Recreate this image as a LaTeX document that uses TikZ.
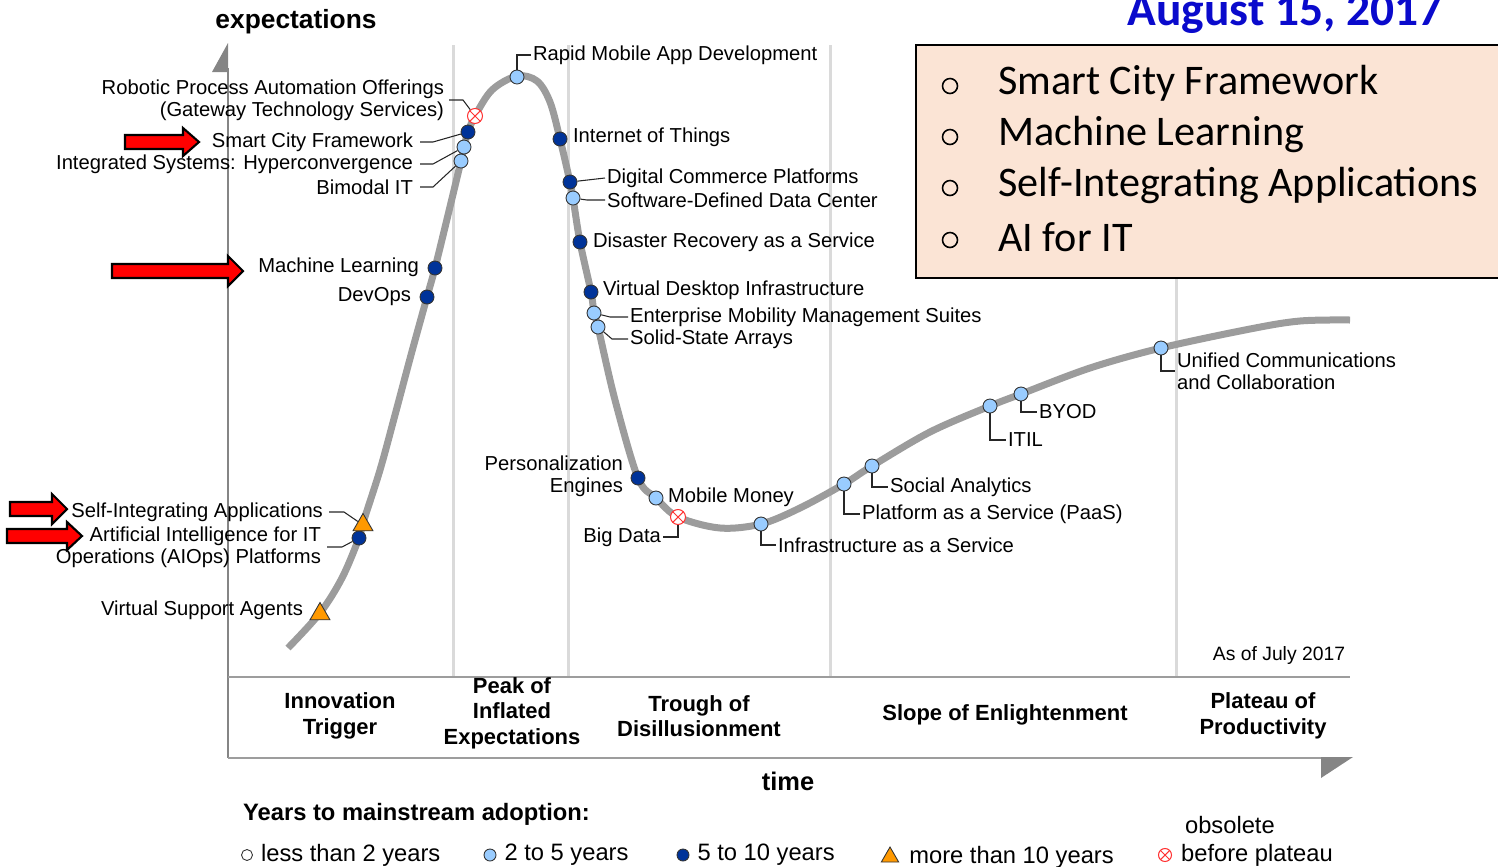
\documentclass[tikz,border=0pt]{standalone}
\usepackage{fontspec}
\setmainfont{Liberation Sans}
\newfontfamily\calibri{Carlito}
\usetikzlibrary{positioning,shapes.geometric}

\definecolor{hypegrey}{HTML}{9C9C9C}
\definecolor{gridgrey}{HTML}{DADADA}
\definecolor{axisgrey}{HTML}{858585}
\definecolor{lightdot}{HTML}{99CCFF}
\definecolor{darkdot}{HTML}{003399}
\definecolor{orangetri}{HTML}{FF9900}
\definecolor{obsred}{HTML}{FF3333}
\definecolor{peach}{HTML}{FBE4D5}
\definecolor{dateblue}{HTML}{0A0ACC}

\tikzset{
  dot/.style={circle, draw=black!80, line width=0.5pt, inner sep=0pt, minimum size=0.28cm},
  lesstwo/.style={dot, fill=white},
  twofive/.style={dot, fill=lightdot},
  fiveten/.style={dot, fill=darkdot},
  tenplus/.style={regular polygon, regular polygon sides=3, draw=black!80,
    line width=0.5pt, fill=orangetri, inner sep=0pt, minimum size=0.46cm},
  obsol/.style={circle, draw=obsred, fill=white, line width=0.6pt, inner sep=0pt,
    minimum size=0.3cm,
    path picture={\draw[obsred, line width=0.6pt]
      (path picture bounding box.north west) -- (path picture bounding box.south east)
      (path picture bounding box.north east) -- (path picture bounding box.south west);}},
  lbl/.style={font=\fontsize{11.5}{12.5}\selectfont, inner sep=1pt},
  lead/.style={draw=black!85, line width=0.6pt},
  phase/.style={font=\bfseries\fontsize{12.5}{14.5}\selectfont, align=center},
  leg/.style={font=\fontsize{13.5}{15}\selectfont, inner sep=1pt},
  redarrow/.style={draw=black, fill=red, line width=1.2pt, line join=miter},
  boxitem/.style={font=\calibri\fontsize{24}{28}\selectfont, inner sep=0pt, anchor=west},
}

\begin{document}
\begin{tikzpicture}[x=0.02cm, y=-0.02cm]
  \useasboundingbox (0,0) rectangle (1498,866);

  % phase separators
  \foreach \xs in {453,568,830,1176}
    \draw[gridgrey, line width=0.06cm] (\xs,45) -- (\xs,677);

  % axes
  \draw[axisgrey, line width=0.6pt] (228,68) -- (228,758);
  \fill[axisgrey] (228,43) -- (228,72) -- (212,72) -- cycle;
  \draw[axisgrey!80, line width=1.2pt] (228,677) -- (1350,677);
  \draw[axisgrey!80, line width=1.2pt] (228,758) -- (1321,758);
  \fill[axisgrey] (1321,757) -- (1353,757) -- (1321,778) -- cycle;

  \node[font=\bfseries\fontsize{15}{18}\selectfont] (ylab) at (296,22) {expectations};
  \node[font=\bfseries\fontsize{14.5}{17}\selectfont] (tlab) at (788,781) {time};
  \node[font=\fontsize{11}{13}\selectfont] (asof) at (1279,655) {As of July 2017};

  % hype curve
  \draw[hypegrey, line width=0.14cm] plot[smooth, tension=0.55] coordinates {
    (288,648) (320,613) (342,578) (359,538) (363,523) (380,470) (395,415)
    (411,355) (427,297) (435,268) (448,215) (461,161) (464,147) (468,132)
    (475,116) (492,90) (517,76) (537,81) (550,102) (560,139) (570,182)
    (573,198) (580,242) (591,292) (594,313) (598,327) (615,400) (638,478)
    (656,498) (678,517) (720,528) (761,524) (800,508) (844,484) (872,466)
    (930,432) (990,406) (1021,394) (1090,368) (1161,348) (1250,329)
    (1300,321) (1350,320)};

  % technologies, rising side
  \node[tenplus] (vsa) at (320,614) {};
  \node[fiveten] (aiops) at (359,538) {};
  \node[tenplus] (sia) at (363,525) {};
  \node[fiveten] (devops) at (427,297) {};
  \node[fiveten] (ml) at (435,268) {};
  \node[twofive] (bit) at (461,161) {};
  \node[twofive] (ish) at (464,147) {};
  \node[fiveten] (scf) at (468,132) {};
  \node[obsol] (rpa) at (475,116) {};
  \node[twofive] (rmad) at (517,77) {};

  \node[lbl, anchor=east] (vsa-l) at (305,610) {Virtual Support Agents};
  \node[lbl, anchor=east, align=right] (aiops-l) at (323,547)
    {Artificial Intelligence for IT\\Operations (AIOps) Platforms};
  \node[lbl, anchor=east] (sia-l) at (325,512) {Self-Integrating Applications};
  \node[lbl, anchor=east] (devops-l) at (413,297) {DevOps};
  \node[lbl, anchor=east] (ml-l) at (421,267) {Machine Learning};
  \node[lbl, anchor=east] (bit-l) at (415,187) {Bimodal IT};
  \node[lbl, anchor=east] (ish-l) at (415,164) {Integrated Systems: Hyperconvergence};
  \node[lbl, anchor=east] (scf-l) at (415,142) {Smart City Framework};
  \node[lbl, anchor=east, align=right] (rpa-l) at (446,100)
    {Robotic Process Automation Offerings\\(Gateway Technology Services)};
  \node[lbl, anchor=west] (rmad-l) at (531,55) {Rapid Mobile App Development};

  \draw[lead] (aiops-l.east) ++(4,0) -- ++(15,0) -- (aiops);
  \draw[lead] (sia-l.east) ++(4,0) -- ++(15,0) -- (sia);
  \draw[lead] (bit-l.east) ++(5,0) -- ++(13,0) -- (bit);
  \draw[lead] (ish-l.east) ++(5,0) -- ++(13,0) -- (ish);
  \draw[lead] (scf-l.east) ++(5,0) -- ++(13,0) -- (scf);
  \draw[lead] (rpa-l.east) ++(3,0) -- ++(14,0) -- (rpa);
  \draw[lead] (rmad) |- (rmad-l.west);

  % technologies, falling side and trough
  \node[fiveten] (iot) at (560,139) {};
  \node[fiveten] (dcp) at (570,182) {};
  \node[twofive] (sddc) at (573,198) {};
  \node[fiveten] (draas) at (580,242) {};
  \node[fiveten] (vdi) at (591,292) {};
  \node[twofive] (emms) at (594,313) {};
  \node[twofive] (ssa) at (598,327) {};
  \node[fiveten] (pers) at (638,478) {};
  \node[twofive] (mm) at (656,498) {};
  \node[obsol] (bd) at (678,517) {};

  \node[lbl, anchor=west] (iot-l) at (571,137) {Internet of Things};
  \node[lbl, anchor=west] (dcp-l) at (605,178) {Digital Commerce Platforms};
  \node[lbl, anchor=west] (sddc-l) at (605,200) {Software-Defined Data Center};
  \node[lbl, anchor=west] (draas-l) at (591,242) {Disaster Recovery as a Service};
  \node[lbl, anchor=west] (vdi-l) at (601,290) {Virtual Desktop Infrastructure};
  \node[lbl, anchor=west] (emms-l) at (628,317) {Enterprise Mobility Management Suites};
  \node[lbl, anchor=west] (ssa-l) at (628,339) {Solid-State Arrays};
  \node[lbl, anchor=east, align=right] (pers-l) at (625,476) {Personalization\\Engines};
  \node[lbl, anchor=west] (mm-l) at (666,497) {Mobile Money};
  \node[lbl, anchor=east] (bd-l) at (663,537) {Big Data};

  \draw[lead] (dcp) -- (dcp-l.west);
  \draw[lead] (sddc-l.west) -- ++(-18,0) -- (sddc);
  \draw[lead] (emms-l.west) -- ++(-18,0) -- (emms);
  \draw[lead] (ssa-l.west) -- ++(-16,0) -- (ssa);
  \draw[lead] (bd) |- (bd-l.east);

  % technologies, slope and plateau
  \node[twofive] (iaas) at (761,524) {};
  \node[twofive] (paas) at (844,484) {};
  \node[twofive] (sa) at (872,466) {};
  \node[twofive] (itil) at (990,406) {};
  \node[twofive] (byod) at (1021,394) {};
  \node[twofive] (ucc) at (1161,348) {};

  \node[lbl, anchor=west] (iaas-l) at (776,545) {Infrastructure as a Service};
  \node[lbl, anchor=west] (paas-l) at (860,514) {Platform as a Service (PaaS)};
  \node[lbl, anchor=west] (sa-l) at (888,487) {Social Analytics};
  \node[lbl, anchor=west] (itil-l) at (1006,440) {ITIL};
  \node[lbl, anchor=west] (byod-l) at (1037,412) {BYOD};
  \node[lbl, anchor=west, align=left] (ucc-l) at (1175,371)
    {Unified Communications\\and Collaboration};

  \draw[lead] (iaas) |- (iaas-l.west);
  \draw[lead] (paas) |- (paas-l.west);
  \draw[lead] (sa) |- (sa-l.west);
  \draw[lead] (itil) |- (itil-l.west);
  \draw[lead] (byod) |- (byod-l.west);
  \draw[lead] (ucc) |- (ucc-l.west);

  % phases
  \node[phase] (trig) at (340,716) {Innovation\\Trigger};
  \node[phase] (peak) at (512,713) {Peak of\\Inflated\\Expectations};
  \node[phase] (trough) at (699,716) {Trough of\\Disillusionment};
  \node[phase] (slope) at (1005,715) {Slope of Enlightenment};
  \node[phase] (plat) at (1263,716) {Plateau of\\Productivity};

  % legend
  \node[font=\bfseries\fontsize{13.5}{16}\selectfont, anchor=west] (legt) at (237,814)
    {Years to mainstream adoption:};
  \node[lesstwo, minimum size=0.22cm] (lg1) at (247,855) {};
  \node[leg, right=0.12cm of lg1] (lg1-t) {less than 2 years};
  \node[twofive, minimum size=0.24cm] (lg2) at (490,855) {};
  \node[leg, right=0.12cm of lg2] (lg2-t) {2 to 5 years};
  \node[fiveten, minimum size=0.24cm] (lg3) at (683,855) {};
  \node[leg, right=0.12cm of lg3] (lg3-t) {5 to 10 years};
  \node[tenplus, minimum size=0.4cm] (lg4) at (890,857) {};
  \node[leg, right=0.22cm of lg4] (lg4-t) {more than 10 years};
  \node[obsol, minimum size=0.26cm] (lg5) at (1165,855) {};
  \node[leg, right=0.14cm of lg5] (lg5-t) {before plateau};
  \node[leg, anchor=west] (lg5-o) at (1183,825) {obsolete};

  % red pointers
  \foreach \xa/\xb/\xt/\yc/\hw in {125/183/199/142/14, 112/228/243/271/15,
                                   10/52/67/509/15, 7/67/82/536/14}
    \draw[redarrow] (\xa,\yc-7) -- (\xb,\yc-7) -- (\xb,\yc-\hw) -- (\xt,\yc)
      -- (\xb,\yc+\hw) -- (\xb,\yc+7) -- (\xa,\yc+7) -- cycle;

  % summary box
  \draw[fill=peach, line width=1.2pt] (916,45) rectangle (1510,278);
  \foreach \t/\yb/\n in {Smart City Framework/86/1, Machine Learning/137/2,
                         Self-Integrating Applications/188/3, AI for IT/240/4} {
    \node[circle, draw, line width=0.9pt, minimum size=0.3cm, inner sep=0pt]
      (bul\n) at (950,\yb) {};
    \node[boxitem] (item\n) at (998,\yb-3) {\t};
  }
  \node[font=\calibri\bfseries\fontsize{27}{30}\selectfont, text=dateblue, anchor=base]
    (date) at (1285,25) {August 15, 2017};
\end{tikzpicture}
\end{document}
